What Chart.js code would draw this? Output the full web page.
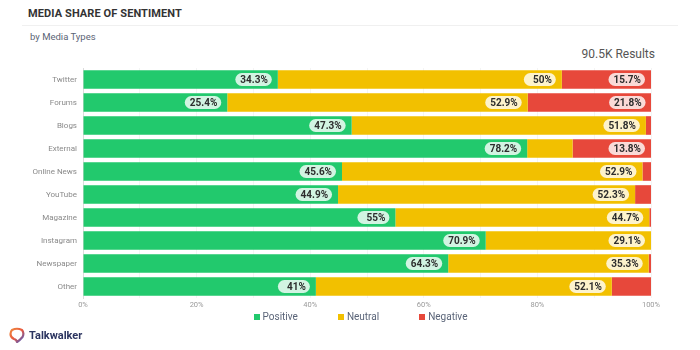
<!DOCTYPE html>
<html>
<head>
<meta charset="utf-8">
<script src="https://cdn.jsdelivr.net/npm/chart.js@4"></script>
<style>
    body { margin: 0; background: #fff; font-family: Roboto, "Noto Sans", sans-serif; }
    #wrap { position: relative; width: 700px; height: 350px; overflow: hidden; }
    #grafica { position: absolute; left: 0; top: 0; }
    .titulo { position: absolute; left: 28px; top: 7px; font-size: 11px; font-weight: 700; color: #333; letter-spacing: 0.1px; }
    .separador { position: absolute; left: 22px; right: 22px; top: 25px; height: 1px; background: #f0f0f0; }
    .subtitulo { position: absolute; left: 30px; top: 31px; font-size: 9.5px; color: #5b6475; }
    .resultados { position: absolute; right: 45px; top: 47px; font-size: 12px; color: #555; }
    .leyenda { position: absolute; top: 311px; left: 0; width: 721px; display: flex; justify-content: center; gap: 40px; font-size: 10px; color: #5a6478; }
    .leyenda span { display: flex; align-items: center; }
    .leyenda i { display: inline-block; width: 6px; height: 6px; margin-right: 3px; }
    .logo { position: absolute; left: 9px; top: 327px; display: flex; align-items: center; font-size: 11px; font-weight: 700; color: #2c3560; }
    .logo svg { margin-right: 4px; }
</style>
</head>
<body>
<div id="wrap">
    <div class="titulo">MEDIA SHARE OF SENTIMENT</div>
    <div class="separador"></div>
    <div class="subtitulo">by Media Types</div>
    <div class="resultados">90.5K Results</div>
    <canvas id="grafica" width="700" height="350"></canvas>
    <div class="leyenda" id="leyenda"></div>
    <div class="logo">
        <svg width="16" height="16" viewBox="0 0 16 16">
            <defs>
                <linearGradient id="g" x1="0" y1="0" x2="1" y2="1">
                    <stop offset="0" stop-color="#f08a3c"/>
                    <stop offset="0.5" stop-color="#e8573f"/>
                    <stop offset="1" stop-color="#3a5bd0"/>
                </linearGradient>
            </defs>
            <path d="M3 3 Q8 0.5 13 3 Q15.5 6 13.5 10 Q11 13 8 15 Q7.5 12.5 5 12 Q1.5 10.5 1.5 7 Q1.5 4.5 3 3 Z" fill="none" stroke="url(#g)" stroke-width="2.2" stroke-linejoin="round"/>
        </svg>
        Talkwalker
    </div>
</div>
<script>
const categorias = ["Twitter", "Forums", "Blogs", "External", "Online News", "YouTube", "Magazine", "Instagram", "Newspaper", "Other"];
const positivos = [34.3, 25.4, 47.3, 78.2, 45.6, 44.9, 55, 70.9, 64.3, 41];
const neutrales = [50, 52.9, 51.8, 8.0, 52.9, 52.3, 44.7, 29.1, 35.3, 52.1];
const negativos = [15.7, 21.8, 0.9, 13.8, 1.5, 2.8, 0.3, 0, 0.4, 6.9];
const series = ["Positive", "Neutral", "Negative"];
const colores = ["#22c96d", "#f2c000", "#e7483b"];
const ticksX = [0, 20, 40, 60, 80, 100];

// leyenda en HTML
const leyenda = document.getElementById("leyenda");
series.forEach((s, i) => {
    const span = document.createElement("span");
    span.innerHTML = `<i style="background:${colores[i]}"></i>${s}`;
    leyenda.appendChild(span);
});

// etiquetas tipo "pastilla" al final de cada segmento
const etiquetasPlugin = {
    id: "etiquetas",
    afterDatasetsDraw(chart) {
        const ctx = chart.ctx;
        ctx.save();
        ctx.font = "bold 10px Roboto, sans-serif";
        ctx.textBaseline = "middle";
        ctx.textAlign = "right";
        chart.data.datasets.forEach((ds, di) => {
            const meta = chart.getDatasetMeta(di);
            meta.data.forEach((bar, i) => {
                const v = ds.data[i];
                if (v < 10) return;
                const texto = v + "%";
                const tw = ctx.measureText(texto).width;
                const w = Math.max(32, tw + 9);
                const h = 13;
                const derecha = bar.x - 6;
                const izq = derecha - w;
                const y = bar.y;
                ctx.fillStyle = "rgba(255,255,255,0.8)";
                ctx.beginPath();
                ctx.roundRect(izq, y - h / 2, w, h, h / 2);
                ctx.fill();
                ctx.fillStyle = "#2d2d2d";
                ctx.fillText(texto, derecha - 4, y + 0.5);
            });
        });
        ctx.restore();
    },
};

new Chart(document.getElementById("grafica"), {
    type: "bar",
    data: {
        labels: categorias,
        datasets: [
            { label: series[0], data: positivos, backgroundColor: colores[0] },
            { label: series[1], data: neutrales, backgroundColor: colores[1] },
            { label: series[2], data: negativos, backgroundColor: colores[2] },
        ],
    },
    options: {
        indexAxis: "y",
        responsive: false,
        animation: false,
        layout: { padding: { left: 0, right: 49, top: 68, bottom: 38 } },
        datasets: { bar: { categoryPercentage: 1, barPercentage: 0.81, borderWidth: 0 } },
        plugins: {
            legend: { display: false },
            tooltip: { enabled: false },
        },
        scales: {
            x: {
                stacked: true,
                min: 0,
                max: 100,
                grid: { color: "#f4f4f4", drawTicks: false },
                border: { display: false },
                ticks: {
                    stepSize: 10,
                    padding: 3,
                    color: "#9a9a9a",
                    font: { family: "Roboto", size: 7.5 },
                    callback: (v) => (ticksX.includes(v) ? v + "%" : ""),
                },
                afterFit: (s) => { s.height = 14; },
            },
            y: {
                stacked: true,
                grid: { display: false, drawTicks: false },
                border: { display: true, color: "#dcdcdc" },
                ticks: {
                    padding: 6,
                    color: "#8a8a8a",
                    font: { family: "Roboto", size: 8 },
                },
                afterFit: (s) => { s.width = 83; },
            },
        },
    },
    plugins: [etiquetasPlugin],
});
</script>
</body>
</html>
